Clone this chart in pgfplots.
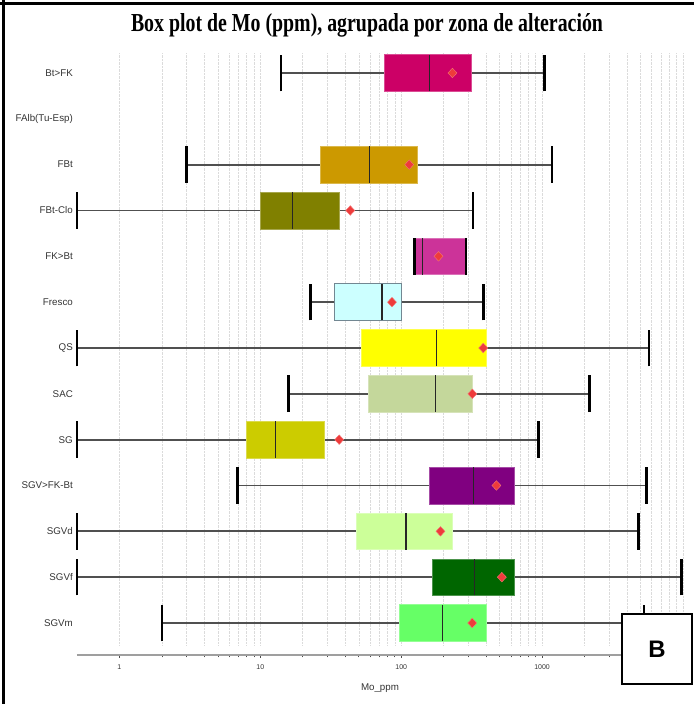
\documentclass[border=0pt]{standalone}
\usepackage{fontspec}
\setmainfont{Liberation Sans}
\newfontfamily\titlefont{Liberation Serif}
\usepackage{graphicx}
\usepackage{pgfplots}
\pgfplotsset{compat=1.18}
\definecolor{cBtFK}{HTML}{CC0066}
\definecolor{cFBt}{HTML}{CC9900}
\definecolor{cFBtClo}{HTML}{808000}
\definecolor{cFKBt}{HTML}{CC3399}
\definecolor{cFresco}{HTML}{CCFFFF}
\definecolor{cQS}{HTML}{FFFF00}
\definecolor{cSAC}{HTML}{C4D79B}
\definecolor{cSG}{HTML}{CCCC00}
\definecolor{cSGVFK}{HTML}{800080}
\definecolor{cSGVd}{HTML}{CCFF99}
\definecolor{cSGVf}{HTML}{006600}
\definecolor{cSGVm}{HTML}{66FF66}
\definecolor{meanred}{HTML}{EE3B3B}
\definecolor{whisk}{HTML}{505050}
\definecolor{labgray}{HTML}{333333}
\tikzset{
  wline/.style={whisk, line width=1.8bp, no marks},
  wcap/.style={black, line width=2.4bp, no marks},
  wmed/.style={black!85, line width=1.3bp, no marks},
  wmean/.style={only marks, mark=diamond*, mark size=4.8bp, mark options={xscale=1.25, fill=meanred, draw=meanred!70!white, line width=0.4bp}},
}
\begin{document}
\begin{tikzpicture}
\path[use as bounding box] (0,0) rectangle (694bp,704bp);
\begin{axis}[
  at={(77bp,59bp)}, anchor=south west,
  scale only axis, width=606bp, height=592bp,
  xmode=log, xmin=0.5, xmax=10000,
  ymin=0.52, ymax=13.436,
  clip=false,
  axis x line*=bottom, axis y line*=left,
  x axis line style={draw=gray!75, line width=1.8bp, yshift=-10bp, -},
  y axis line style={draw=none},
  tick align=outside,
  major tick length=3bp, minor tick length=2.5bp,
  xtick style={draw=gray!60!black, line width=0.6bp, yshift=-10bp},
  ytick style={draw=none},
  xtick={1,10,100,1000,10000},
  xticklabels={1,10,100,1000,10000},
  xticklabel style={font=\fontsize{7}{8}\selectfont, text=labgray, yshift=-13bp},
  ytick={1,2,3,4,5,6,7,8,9,10,11,12,13},
  yticklabels={SGVm,SGVf,SGVd,SGV>FK-Bt,SG,SAC,QS,Fresco,FK>Bt,FBt-Clo,FBt,FAlb(Tu-Esp),Bt>FK},
  yticklabel style={font=\fontsize{9.8}{11}\selectfont, text=labgray, inner xsep=1bp},
  xmajorgrids, xminorgrids,
  major grid style={densely dotted, draw=gray!28, line width=0.5bp},
  minor grid style={densely dotted, draw=gray!28, line width=0.5bp},
  xlabel={Mo\_ppm},
  xlabel style={font=\fontsize{9.8}{11}\selectfont, text=labgray, yshift=-7bp},
]
% ---- Bt>FK (y=13)
\addplot[wline] coordinates {(14,13) (76,13)};
\addplot[wline] coordinates {(315,13) (1040,13)};
\addplot[fill=cBtFK, draw=cBtFK!70!white, line width=0.6bp] coordinates {(76,12.6) (315,12.6) (315,13.4) (76,13.4)} -- cycle;
\addplot[wmed] coordinates {(158,12.6) (158,13.4)};
\addplot[wcap] coordinates {(14,12.6) (14,13.4)};
\addplot[wcap] coordinates {(1040,12.6) (1040,13.4)};
\addplot[wmean] coordinates {(231,13)};
% ---- FBt (y=11)
\addplot[wline] coordinates {(3,11) (26.6,11)};
\addplot[wline] coordinates {(130,11) (1170,11)};
\addplot[fill=cFBt, draw=cFBt!70!white, line width=0.6bp] coordinates {(26.6,10.6) (130,10.6) (130,11.4) (26.6,11.4)} -- cycle;
\addplot[wmed] coordinates {(59.6,10.6) (59.6,11.4)};
\addplot[wcap] coordinates {(3,10.6) (3,11.4)};
\addplot[wcap] coordinates {(1170,10.6) (1170,11.4)};
\addplot[wmean] coordinates {(114,11)};
% ---- FBt-Clo (y=10)
\addplot[wline] coordinates {(0.5,10) (10,10)};
\addplot[wline] coordinates {(36.5,10) (322,10)};
\addplot[fill=cFBtClo, draw=cFBtClo!70!white, line width=0.6bp] coordinates {(10,9.6) (36.5,9.6) (36.5,10.4) (10,10.4)} -- cycle;
\addplot[wmed] coordinates {(16.9,9.6) (16.9,10.4)};
\addplot[wcap] coordinates {(0.5,9.6) (0.5,10.4)};
\addplot[wcap] coordinates {(322,9.6) (322,10.4)};
\addplot[wmean] coordinates {(43.5,10)};
% ---- FK>Bt (y=9)
\addplot[fill=cFKBt, draw=cFKBt!70!white, line width=0.6bp] coordinates {(124,8.6) (288,8.6) (288,9.4) (124,9.4)} -- cycle;
\addplot[wmed] coordinates {(142,8.6) (142,9.4)};
\addplot[wcap] coordinates {(124,8.6) (124,9.4)};
\addplot[wcap] coordinates {(288,8.6) (288,9.4)};
\addplot[wmean] coordinates {(184,9)};
% ---- Fresco (y=8)
\addplot[wline] coordinates {(22.7,8) (33.5,8)};
\addplot[wline] coordinates {(101,8) (384,8)};
\addplot[fill=cFresco, draw=gray!70!cyan!80!black, line width=0.8bp] coordinates {(33.5,7.6) (101,7.6) (101,8.4) (33.5,8.4)} -- cycle;
\addplot[wmed] coordinates {(73,7.6) (73,8.4)};
\addplot[wcap] coordinates {(22.7,7.6) (22.7,8.4)};
\addplot[wcap] coordinates {(384,7.6) (384,8.4)};
\addplot[wmean] coordinates {(86,8)};
% ---- QS (y=7)
\addplot[wline] coordinates {(0.5,7) (52.3,7)};
\addplot[wline] coordinates {(405,7) (5740,7)};
\addplot[fill=cQS, draw=cQS!70!white, line width=0.6bp] coordinates {(52.3,6.6) (405,6.6) (405,7.4) (52.3,7.4)} -- cycle;
\addplot[wmed] coordinates {(178,6.6) (178,7.4)};
\addplot[wcap] coordinates {(0.5,6.6) (0.5,7.4)};
\addplot[wcap] coordinates {(5740,6.6) (5740,7.4)};
\addplot[wmean] coordinates {(382,7)};
% ---- SAC (y=6)
\addplot[wline] coordinates {(15.8,6) (58.3,6)};
\addplot[wline] coordinates {(321,6) (2170,6)};
\addplot[fill=cSAC, draw=cSAC!70!white, line width=0.6bp] coordinates {(58.3,5.6) (321,5.6) (321,6.4) (58.3,6.4)} -- cycle;
\addplot[wmed] coordinates {(176,5.6) (176,6.4)};
\addplot[wcap] coordinates {(15.8,5.6) (15.8,6.4)};
\addplot[wcap] coordinates {(2170,5.6) (2170,6.4)};
\addplot[wmean] coordinates {(320,6)};
% ---- SG (y=5)
\addplot[wline] coordinates {(0.5,5) (7.9,5)};
\addplot[wline] coordinates {(28.4,5) (942,5)};
\addplot[fill=cSG, draw=cSG!70!white, line width=0.6bp] coordinates {(7.9,4.6) (28.4,4.6) (28.4,5.4) (7.9,5.4)} -- cycle;
\addplot[wmed] coordinates {(12.8,4.6) (12.8,5.4)};
\addplot[wcap] coordinates {(0.5,4.6) (0.5,5.4)};
\addplot[wcap] coordinates {(942,4.6) (942,5.4)};
\addplot[wmean] coordinates {(36.3,5)};
% ---- SGV>FK-Bt (y=4)
\addplot[wline] coordinates {(6.9,4) (158,4)};
\addplot[wline] coordinates {(636,4) (5500,4)};
\addplot[fill=cSGVFK, draw=cSGVFK!70!white, line width=0.6bp] coordinates {(158,3.6) (636,3.6) (636,4.4) (158,4.4)} -- cycle;
\addplot[wmed] coordinates {(326,3.6) (326,4.4)};
\addplot[wcap] coordinates {(6.9,3.6) (6.9,4.4)};
\addplot[wcap] coordinates {(5500,3.6) (5500,4.4)};
\addplot[wmean] coordinates {(474,4)};
% ---- SGVd (y=3)
\addplot[wline] coordinates {(0.5,3) (47.7,3)};
\addplot[wline] coordinates {(229,3) (4820,3)};
\addplot[fill=cSGVd, draw=cSGVd!70!white, line width=0.6bp] coordinates {(47.7,2.6) (229,2.6) (229,3.4) (47.7,3.4)} -- cycle;
\addplot[wmed] coordinates {(108,2.6) (108,3.4)};
\addplot[wcap] coordinates {(0.5,2.6) (0.5,3.4)};
\addplot[wcap] coordinates {(4820,2.6) (4820,3.4)};
\addplot[wmean] coordinates {(190,3)};
% ---- SGVf (y=2)
\addplot[wline] coordinates {(0.5,2) (165,2)};
\addplot[wline] coordinates {(636,2) (9730,2)};
\addplot[fill=cSGVf, draw=cSGVf!70!white, line width=0.6bp] coordinates {(165,1.6) (636,1.6) (636,2.4) (165,2.4)} -- cycle;
\addplot[wmed] coordinates {(331,1.6) (331,2.4)};
\addplot[wcap] coordinates {(0.5,1.6) (0.5,2.4)};
\addplot[wcap] coordinates {(9730,1.6) (9730,2.4)};
\addplot[wmean] coordinates {(518,2)};
% ---- SGVm (y=1)
\addplot[wline] coordinates {(2,1) (96.8,1)};
\addplot[wline] coordinates {(399,1) (5290,1)};
\addplot[fill=cSGVm, draw=cSGVm!70!white, line width=0.6bp] coordinates {(96.8,0.6) (399,0.6) (399,1.4) (96.8,1.4)} -- cycle;
\addplot[wmed] coordinates {(196,0.6) (196,1.4)};
\addplot[wcap] coordinates {(2,0.6) (2,1.4)};
\addplot[wcap] coordinates {(5290,0.6) (5290,1.4)};
\addplot[wmean] coordinates {(319,1)};
\end{axis}
% title
\node[anchor=base, inner sep=0pt] at (367bp,672bp) {\resizebox{472bp}{\height}{\titlefont\bfseries\fontsize{26}{30}\selectfont Box plot de Mo (ppm), agrupada por zona de alteración}};
% frame lines
\draw[black, line width=2.5bp] (3.5bp,0bp) -- (3.5bp,704bp);
\draw[black, line width=2.5bp] (0bp,700.5bp) -- (694bp,700.5bp);
% label box B
\draw[black, line width=1.6bp, fill=white] (622bp,20bp) rectangle (692bp,90bp);
\node[font=\bfseries\fontsize{24}{28}\selectfont] at (657bp,55bp) {B};
\end{tikzpicture}
\end{document}
